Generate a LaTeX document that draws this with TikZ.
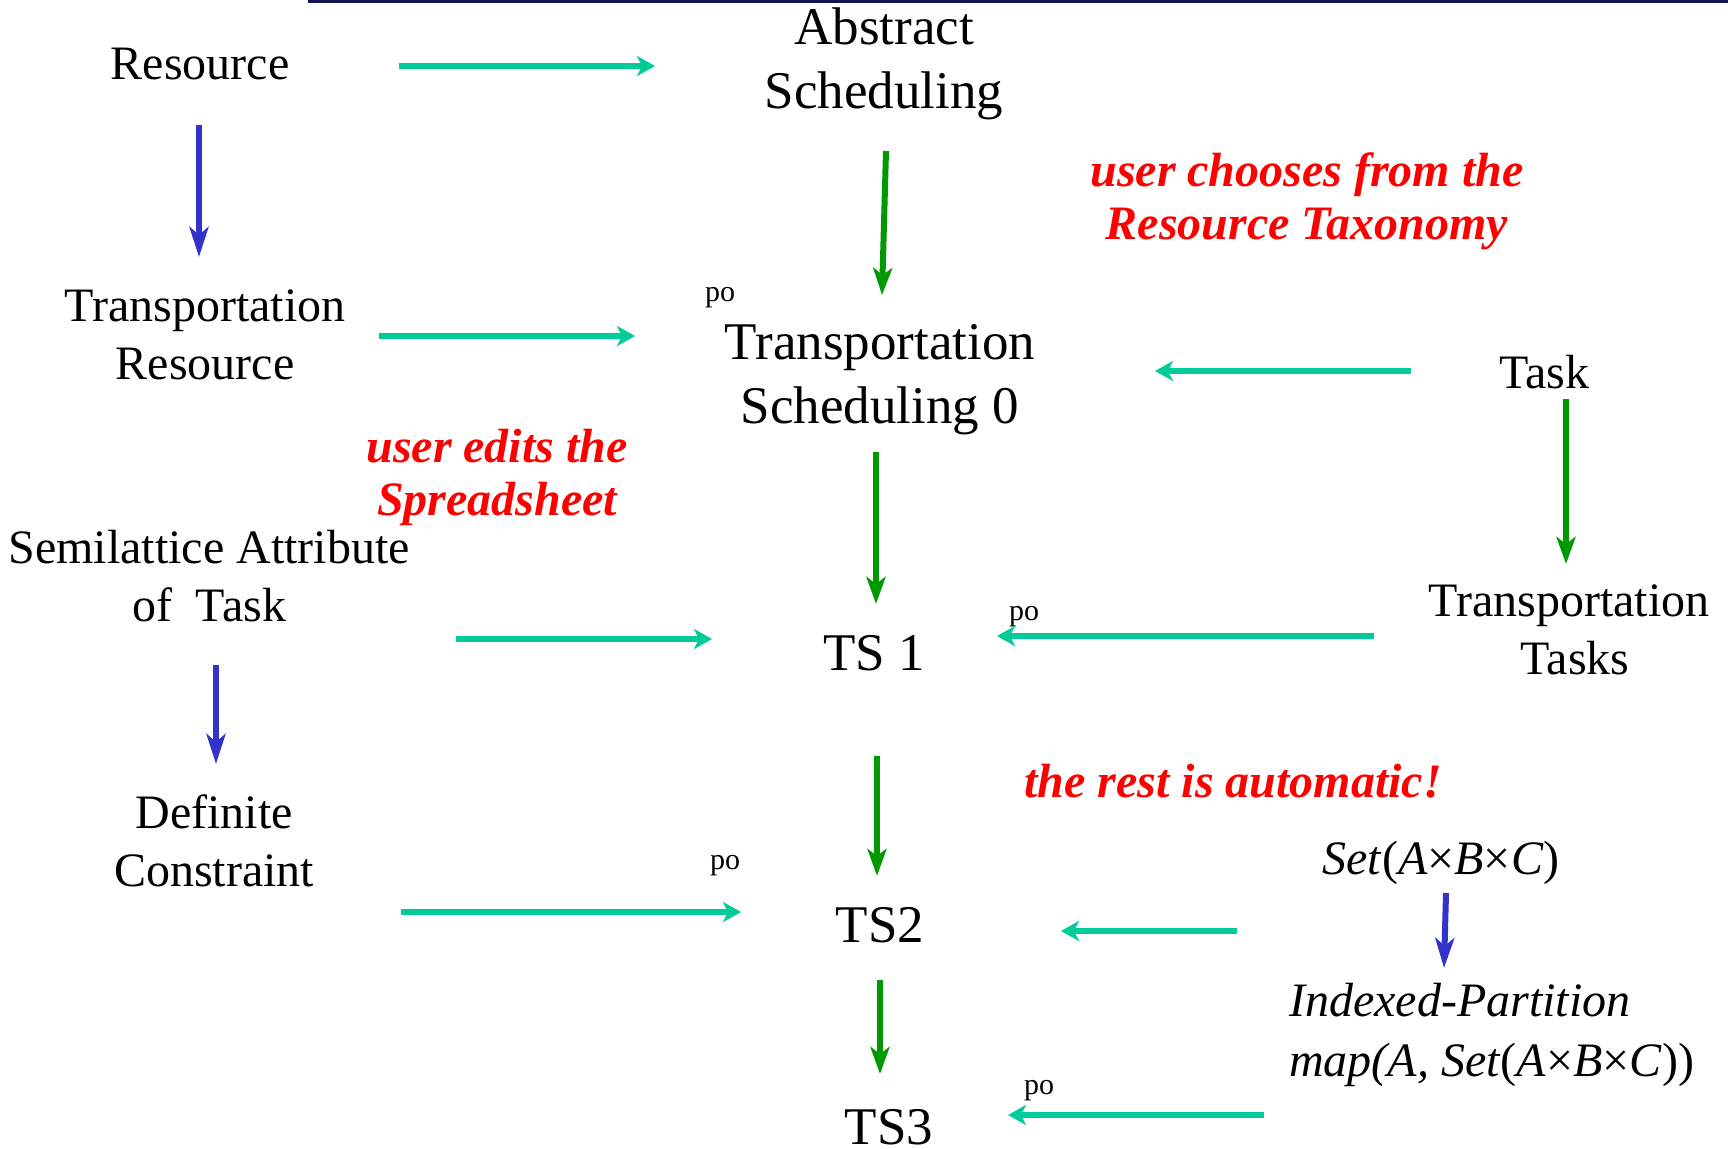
\documentclass[tikz,border=0pt]{standalone}
\usepackage{fontspec}
\setmainfont{Liberation Serif}
\usetikzlibrary{arrows.meta}
\definecolor{tealc}{RGB}{0,204,153}
\definecolor{bluec}{RGB}{51,51,204}
\definecolor{greenc}{RGB}{0,153,0}
\definecolor{redc}{RGB}{255,0,0}
\definecolor{navyc}{RGB}{20,20,80}
\tikzset{
  lbl/.style={font=\fontsize{48}{58}\selectfont, align=center, inner sep=0pt},
  lblbig/.style={font=\fontsize{53}{64}\selectfont, align=center, inner sep=0pt},
  note/.style={font=\fontsize{48}{53}\selectfont\bfseries\itshape, text=redc, align=center, inner sep=0pt},
  potag/.style={font=\fontsize{30}{30}\selectfont, inner sep=0pt},
  tarr/.style={draw=tealc, line width=6pt, -{Stealth[length=18pt,width=20pt,inset=5pt]}},
  barr/.style={draw=bluec, line width=6pt, -{Stealth[length=30pt,width=19pt,inset=8pt]}},
  garr/.style={draw=greenc, line width=6pt, -{Stealth[length=27pt,width=19pt,inset=7pt]}},
}
\begin{document}
\begin{tikzpicture}[x=1pt,y=-1pt]
\useasboundingbox (0,0) rectangle (1728,1148);
% rule along the top
\draw[navyc, line width=3pt] (308,1.5) -- (1728,1.5);

% objects
\node[lbl] (res)  at (200,64)  {Resource};
\node[lblbig] (abs)  at (884,64)  {Abstract\\Scheduling};
\node[lbl] (tres) at (205,335) {Transportation\\Resource};
\node[lblbig] (ts0)  at (880,380) {Transportation\\Scheduling 0};
\node[lbl] (task) at (1544,372) {Task};
\node[lbl] (semi) at (209,576) {Semilattice Attribute\\of\ \ Task};
\node[lblbig] (ts1)  at (874,653) {TS 1};
\node[lbl] (ttask) at (1569,630) {Transportation\\\hspace*{12pt}Tasks};
\node[lbl] (defc) at (214,841) {Definite\\Constraint};
\node[lblbig] (ts2)  at (880,925) {TS2};
\node[lbl] (set)  at (1441,863) {\textit{Set}(\textit{A}×\textit{B}×\textit{C})};
\node[lbl, font=\fontsize{48}{60.5}\selectfont, align=left, anchor=west] (ipart) at (1289,1035) {\textit{Indexed-Partition}\\\textit{map(A, Set}(\textit{A}×\textit{B}×\textit{C}))};
\node[lblbig] (ts3)  at (889,1127) {TS3};

% annotations
\node[note] (n1) at (1307,201) {user chooses from the\\Resource Taxonomy};
\node[note] (n2) at (497,477) {user edits the\\Spreadsheet};
\node[note] (n3) at (1233,781) {the rest is automatic!};

\node[potag] (po0) at (720,298) {po};
\node[potag] (po1) at (1024,617) {po};
\node[potag] (po2) at (725,866) {po};
\node[potag] (po3) at (1039,1091) {po};

% connector end points
\coordinate (a1s) at (399,66);   \coordinate (a1e) at (655,66);
\coordinate (a2s) at (379,336);  \coordinate (a2e) at (635,336);
\coordinate (a3s) at (1411,371); \coordinate (a3e) at (1155,371);
\coordinate (a4s) at (456,639);  \coordinate (a4e) at (712,639);
\coordinate (a5s) at (1374,636); \coordinate (a5e) at (997,636);
\coordinate (a6s) at (401,912);  \coordinate (a6e) at (741,912);
\coordinate (a7s) at (1237,931); \coordinate (a7e) at (1061,931);
\coordinate (a8s) at (1264,1115); \coordinate (a8e) at (1008,1115);
\coordinate (b1s) at (199,125);  \coordinate (b1e) at (199,257);
\coordinate (b2s) at (216,665);  \coordinate (b2e) at (216,764);
\coordinate (b3s) at (1446,893); \coordinate (b3e) at (1444,968);
\coordinate (g1s) at (886,151);  \coordinate (g1e) at (882,295);
\coordinate (g2s) at (876,452);  \coordinate (g2e) at (876,604);
\coordinate (g3s) at (1566,399); \coordinate (g3e) at (1566,564);
\coordinate (g4s) at (877,756);  \coordinate (g4e) at (877,876);
\coordinate (g5s) at (880,980);  \coordinate (g5e) at (880,1074);

% horizontal maps
\draw[tarr] (a1s) -- (a1e);
\draw[tarr] (a2s) -- (a2e);
\draw[tarr] (a3s) -- (a3e);
\draw[tarr] (a4s) -- (a4e);
\draw[tarr] (a5s) -- (a5e);
\draw[tarr] (a6s) -- (a6e);
\draw[tarr] (a7s) -- (a7e);
\draw[tarr] (a8s) -- (a8e);
% specialisations
\draw[barr] (b1s) -- (b1e);
\draw[barr] (b2s) -- (b2e);
\draw[barr] (b3s) -- (b3e);
% pushout steps
\draw[garr] (g1s) -- (g1e);
\draw[garr] (g2s) -- (g2e);
\draw[garr] (g3s) -- (g3e);
\draw[garr] (g4s) -- (g4e);
\draw[garr] (g5s) -- (g5e);
\end{tikzpicture}
\end{document}
